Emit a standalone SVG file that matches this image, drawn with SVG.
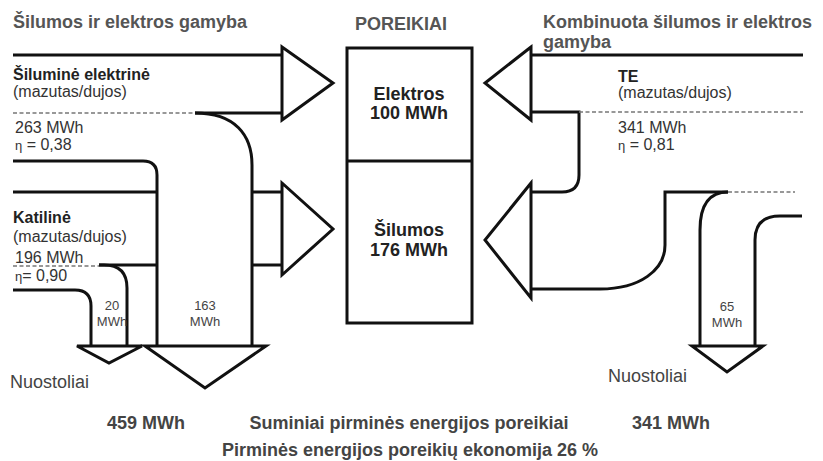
<svg xmlns="http://www.w3.org/2000/svg" width="823" height="461" viewBox="0 0 823 461">
<style>
.ln{fill:none;stroke:#111;stroke-width:3;stroke-linejoin:miter}
.ar{fill:#fff;stroke:#111;stroke-width:3;stroke-linejoin:miter}
.dash{fill:none;stroke:#777;stroke-width:1.5;stroke-dasharray:4 2.5}
.box{fill:#fff;stroke:#111;stroke-width:3}
text{font-family:"Liberation Sans",Arial,sans-serif}
.title{font-size:18px;font-weight:bold;fill:#555}
.hd{font-size:16px;font-weight:bold;fill:#222}
.nm{font-size:16px;fill:#333}
.eta{font-size:13px}
.sm{font-size:13px;fill:#444;text-anchor:middle}
.box-t{font-size:18px;font-weight:bold;fill:#222;text-anchor:middle}
.loss{font-size:18px;fill:#444}
.foot{font-size:18px;font-weight:bold;fill:#444}
</style>
<rect width="823" height="461" fill="#fff"/>

<g id="titles">
<text class="title" x="13" y="28">Šilumos ir elektros gamyba</text>
<text class="title" x="355" y="30">POREIKIAI</text>
<text class="title" x="543" y="28">Kombinuota šilumos ir elektros</text>
<text class="title" x="543" y="48">gamyba</text>
</g>

<g id="connectors">
<!-- left side -->
<path class="ln" d="M13,55 H282"/>
<path class="dash" d="M13,113 H195"/>
<path class="ln" d="M195,113 H282"/>
<path class="ln" d="M195,113 C235,113 252,135 252,165 V346"/>
<path class="ln" d="M13,161 H143 Q157,161 157,175 V346"/>
<path class="ln" d="M13,192 H157"/>
<path class="ln" d="M252,192 H282"/>
<path class="ln" d="M252,265 H282"/>
<path class="dash" d="M13,266 H99"/>
<path class="ln" d="M99,265 H157"/>
<path class="ln" d="M99,265 H104 Q127,265 127,288 V346"/>
<path class="ln" d="M13,290 H75 Q91,290 91,306 V346"/>
<!-- right side -->
<path class="ln" d="M531,55 H803"/>
<path class="ln" d="M531,112 H579 V175 Q579,192 562,192 H531"/>
<path class="dash" d="M579,112 H803"/>
<path class="ln" d="M531,289 H600 C640,289 665,270 665,245 V192 H728"/>
<path class="ln" d="M728,192 Q700,192 700,230 V346"/>
<path class="dash" d="M728,192 H795"/>
<path class="ln" d="M802,216 H780 Q755,216 755,240 V346"/>
</g>

<g id="arrows">
<polygon class="ar" points="282,47 333,83 282,120"/>
<polygon class="ar" points="282,183 333,229 282,275"/>
<polygon class="ar" points="531,47 485,83 531,120"/>
<polygon class="ar" points="531,183 485,240 531,298"/>
<polygon class="ar" points="77,346 142,346 109,363"/>
<polygon class="ar" points="145,346 266,346 205,388"/>
<polygon class="ar" points="692,346 763,346 727,372"/>
</g>

<g id="node-poreikiai">
<rect class="box" x="347" y="48" width="125" height="275"/>
<line class="ln" x1="347" y1="161" x2="472" y2="161"/>
<text class="box-t" x="409" y="100">Elektros</text>
<text class="box-t" x="409" y="119">100 MWh</text>
<text class="box-t" x="409" y="236">Šilumos</text>
<text class="box-t" x="409" y="256">176 MWh</text>
</g>

<g id="node-siluminė">
<text class="hd" x="13" y="80">Šiluminė elektrinė</text>
<text class="nm" x="13" y="97">(mazutas/dujos)</text>
<text class="nm" x="15" y="133">263 MWh</text>
<text class="nm" x="15" y="150"><tspan class="eta">η</tspan> = 0,38</text>
</g>

<g id="node-katiline">
<text class="hd" x="13" y="223">Katilinė</text>
<text class="nm" x="13" y="242">(mazutas/dujos)</text>
<text class="nm" x="15" y="263">196 MWh</text>
<text class="nm" x="15" y="281"><tspan class="eta">η</tspan>= 0,90</text>
</g>

<g id="node-te">
<text class="hd" x="618" y="82">TE</text>
<text class="nm" x="618" y="98">(mazutas/dujos)</text>
<text class="nm" x="618" y="133">341 MWh</text>
<text class="nm" x="618" y="150"><tspan class="eta">η</tspan> = 0,81</text>
</g>

<g id="losses">
<text class="sm" x="112" y="310">20</text>
<text class="sm" x="112" y="326">MWh</text>
<text class="sm" x="205" y="310">163</text>
<text class="sm" x="205" y="326">MWh</text>
<text class="sm" x="727" y="311">65</text>
<text class="sm" x="727" y="327">MWh</text>
<text class="loss" x="10" y="388">Nuostoliai</text>
<text class="loss" x="608" y="382">Nuostoliai</text>
</g>

<g id="footer">
<text class="foot" x="107" y="429">459 MWh</text>
<text class="foot" x="409" y="429" text-anchor="middle">Suminiai pirminės energijos poreikiai</text>
<text class="foot" x="632" y="429">341 MWh</text>
<text class="foot" x="410" y="456" text-anchor="middle">Pirminės energijos poreikių ekonomija 26 %</text>
</g>
</svg>
